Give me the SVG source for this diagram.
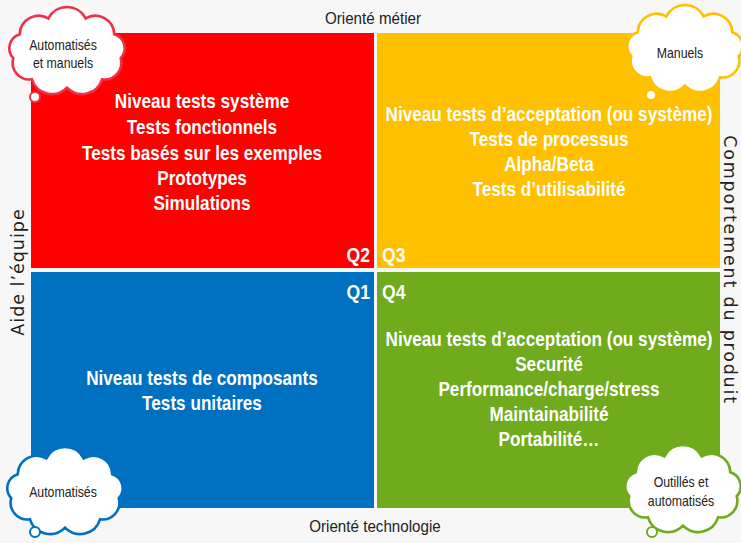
<svg xmlns="http://www.w3.org/2000/svg" width="741" height="543" viewBox="0 0 741 543">
<style>
.q{font-family:"Liberation Sans",Arial,sans-serif;font-weight:bold;font-size:19.5px;fill:#fff;text-anchor:middle}
.ql{font-family:"Liberation Sans",Arial,sans-serif;font-weight:bold;font-size:20px;fill:#fff}
.ax{font-family:"Liberation Sans",Arial,sans-serif;font-size:16.5px;fill:#222;text-anchor:middle}
.side{font-family:"DejaVu Sans",Verdana,sans-serif;font-size:17.5px;fill:#222;text-anchor:middle}
.ct{font-family:"Liberation Sans",Arial,sans-serif;font-size:14px;fill:#222;text-anchor:middle}
.cloud{fill:#fff;stroke-width:2.5}
</style>
<defs>
<path id="cl" d="M51.2,5.9 A16,16 0 0 1 33.4,26 A20,20 0 0 1 0,34 A20,20 0 0 1 -33.4,26 A16,16 0 0 1 -51.2,5.9 A14,14 0 0 1 -45,-17 A18,18 0 0 1 -17.8,-32 A20,20 0 0 1 17.8,-32 A18,18 0 0 1 45,-17 A14,14 0 0 1 51.2,5.9 Z"/>
</defs>
<rect width="741" height="543" fill="#f7f7f7"/>
<g id="q2"><rect x="31" y="33" width="343" height="235" fill="#fe0000"/>
<g transform="translate(202,0) scale(0.88,1)">
<text class="q" x="0" y="108">Niveau tests système</text>
<text class="q" x="0" y="134">Tests fonctionnels</text>
<text class="q" x="0" y="160">Tests basés sur les exemples</text>
<text class="q" x="0" y="185">Prototypes</text>
<text class="q" x="0" y="210">Simulations</text></g>
<g transform="translate(370,0) scale(0.88,1)"><text class="ql" x="0" y="262" text-anchor="end">Q2</text></g></g>
<g id="q3"><rect x="377" y="33" width="343" height="235" fill="#ffc000"/>
<g transform="translate(549,0) scale(0.88,1)">
<text class="q" x="0" y="121">Niveau tests d’acceptation (ou système)</text>
<text class="q" x="0" y="146">Tests de processus</text>
<text class="q" x="0" y="171">Alpha/Beta</text>
<text class="q" x="0" y="196">Tests d’utilisabilité</text></g>
<g transform="translate(382,0) scale(0.88,1)"><text class="ql" x="0" y="262">Q3</text></g></g>
<g id="q1"><rect x="31" y="272" width="343" height="236" fill="#0070c0"/>
<g transform="translate(202,0) scale(0.88,1)">
<text class="q" x="0" y="385">Niveau tests de composants</text>
<text class="q" x="0" y="410">Tests unitaires</text></g>
<g transform="translate(370,0) scale(0.88,1)"><text class="ql" x="0" y="299" text-anchor="end">Q1</text></g></g>
<g id="q4"><rect x="377" y="272" width="343" height="236" fill="#6fab1d"/>
<g transform="translate(549,0) scale(0.88,1)">
<text class="q" x="0" y="346">Niveau tests d’acceptation (ou système)</text>
<text class="q" x="0" y="371">Securité</text>
<text class="q" x="0" y="396">Performance/charge/stress</text>
<text class="q" x="0" y="421">Maintainabilité</text>
<text class="q" x="0" y="446">Portabilité…</text></g>
<g transform="translate(382,0) scale(0.88,1)"><text class="ql" x="0" y="299">Q4</text></g></g>
<g id="axis-top"><text class="ax" x="373" y="24" transform="translate(373,0) scale(0.92,1) translate(-373,0)">Orienté métier</text></g>
<g id="axis-bottom"><text class="ax" x="375" y="532" transform="translate(375,0) scale(0.92,1) translate(-375,0)">Orienté technologie</text></g>
<g id="axis-left"><text class="side" letter-spacing="1" transform="translate(24,272) rotate(-90)">Aide l’équipe</text></g>
<g id="axis-right"><text class="side" letter-spacing="1.8" transform="translate(724,270) rotate(90)">Comportement du produit</text></g>
<g id="cloud-tl"><use href="#cl" class="cloud" stroke="#f0304a" transform="translate(67,52) scale(1.05)"/>
<circle cx="35" cy="97" r="5" fill="#fff" stroke="#f0304a" stroke-width="2"/>
<g transform="translate(63,0) scale(0.88,1)"><text class="ct" x="0" y="50">Automatisés</text><text class="ct" x="0" y="68">et manuels</text></g></g>
<g id="cloud-tr"><use href="#cl" class="cloud" stroke="#ffc000" transform="translate(685,50) scale(1.05)"/>
<circle cx="651" cy="95" r="5" fill="#fff" stroke="#ffc000" stroke-width="2"/>
<g transform="translate(680,0) scale(0.88,1)"><text class="ct" x="0" y="58">Manuels</text></g></g>
<g id="cloud-bl"><use href="#cl" class="cloud" stroke="#0070c0" transform="translate(65,492) scale(1.05)"/>
<circle cx="35" cy="532" r="5" fill="#fff" stroke="#0070c0" stroke-width="2"/>
<g transform="translate(63,0) scale(0.88,1)"><text class="ct" x="0" y="497">Automatisés</text></g></g>
<g id="cloud-br"><use href="#cl" class="cloud" stroke="#6fab1d" transform="translate(683,490) scale(1.05)"/>
<circle cx="652" cy="532" r="5" fill="#fff" stroke="#6fab1d" stroke-width="2"/>
<g transform="translate(681,0) scale(0.88,1)"><text class="ct" x="0" y="487">Outillés et</text><text class="ct" x="0" y="506">automatisés</text></g></g>
</svg>
